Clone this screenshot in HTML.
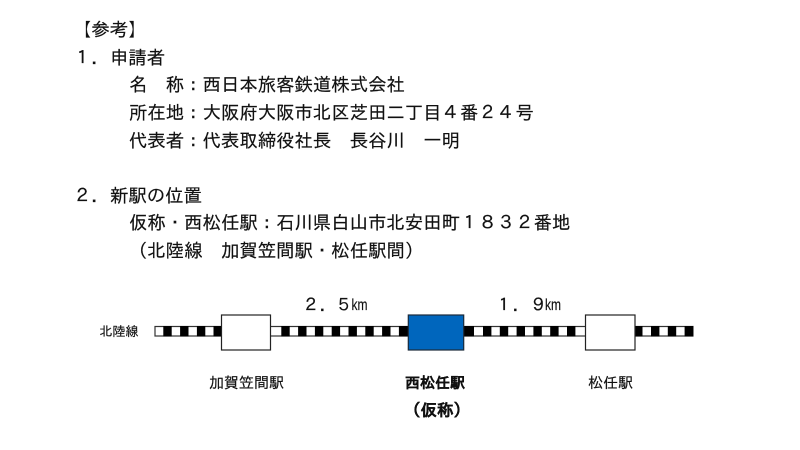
<!DOCTYPE html>
<html lang="ja">
<head>
<meta charset="utf-8">
<style>
html,body{margin:0;padding:0;background:#fff;}
svg{display:block;}
text{font-family:"Liberation Sans","IPAGothic","Noto Sans CJK JP",sans-serif;fill:#111;stroke:#111;stroke-width:0.18px;}
.m{font-size:18.4px;}
.s{font-size:13px;}
</style>
</head>
<body>
<svg width="800" height="450" viewBox="0 0 800 450" xmlns="http://www.w3.org/2000/svg">
<rect width="800" height="450" fill="#fff"/>
<text class="m" x="73" y="36">【参考】</text>
<text class="m" x="73" y="64">１．</text>
<text class="m" x="110" y="64">申請者</text>
<text class="m" x="129" y="91">名　称：西日本旅客鉄道株式会社</text>
<text class="m" x="129" y="119">所在地：大阪府大阪市北区芝田二丁目４番２４号</text>
<text class="m" x="129" y="147">代表者：代表取締役社長　長谷川　一明</text>
<text class="m" x="73" y="202">２．</text>
<text class="m" x="110" y="202">新駅の位置</text>
<text class="m" x="129" y="229">仮称・西松任駅：石川県白山市北安田町１８３２番地</text>
<text class="m" x="129" y="257">（北陸線　加賀笠間駅・松任駅間）</text>

<text class="m" x="302" y="311" style="font-size:17.5px">２．</text>
<text class="m" x="335" y="311" style="font-size:17.5px">５</text>
<text x="351.5" y="310" textLength="16" lengthAdjust="spacingAndGlyphs" style="font-size:16px">km</text>
<text class="m" x="495" y="311" style="font-size:17.5px">１．</text>
<text class="m" x="529.5" y="311" style="font-size:17.5px">９</text>
<text x="545" y="310" textLength="16" lengthAdjust="spacingAndGlyphs" style="font-size:16px">km</text>

<text class="s" x="99.5" y="336">北陸線</text>

<rect x="155" y="326.5" width="538" height="9.5" fill="#fff" stroke="#333" stroke-width="1.2"/>
<g fill="#000">
<rect x="163.3" y="326" width="8.4" height="10.5"/>
<rect x="180.1" y="326" width="8.4" height="10.5"/>
<rect x="196.9" y="326" width="8.4" height="10.5"/>
<rect x="213.5" y="326" width="8" height="10.5"/>
<rect x="281.3" y="326" width="8.4" height="10.5"/>
<rect x="298.1" y="326" width="8.4" height="10.5"/>
<rect x="314.9" y="326" width="8.4" height="10.5"/>
<rect x="331.7" y="326" width="8.4" height="10.5"/>
<rect x="348.5" y="326" width="8.4" height="10.5"/>
<rect x="365.3" y="326" width="8.4" height="10.5"/>
<rect x="382.1" y="326" width="8.4" height="10.5"/>
<rect x="398.9" y="326" width="9.5" height="10.5"/>
<rect x="464" y="326" width="10" height="10.5"/>
<rect x="483" y="326" width="8.4" height="10.5"/>
<rect x="499.8" y="326" width="8.4" height="10.5"/>
<rect x="516.6" y="326" width="8.4" height="10.5"/>
<rect x="533.4" y="326" width="8.4" height="10.5"/>
<rect x="550.2" y="326" width="8.4" height="10.5"/>
<rect x="567" y="326" width="8.4" height="10.5"/>
<rect x="635" y="326" width="7.5" height="10.5"/>
<rect x="651" y="326" width="8.4" height="10.5"/>
<rect x="667.8" y="326" width="8.4" height="10.5"/>
<rect x="684.6" y="326" width="8.4" height="10.5"/>
</g>

<rect x="221.5" y="315" width="49" height="35" fill="#fff" stroke="#222" stroke-width="1.2"/>
<rect x="408.3" y="315" width="55.4" height="35" fill="#0066bd" stroke="#1a2a3a" stroke-width="1.2"/>
<rect x="585.5" y="315" width="49.5" height="35" fill="#fff" stroke="#222" stroke-width="1.2"/>

<text class="s" x="209" y="388" style="font-size:15px">加賀笠間駅</text>
<text class="s" x="405" y="388" style="font-size:15px;font-weight:bold">西松任駅</text>
<text class="s" x="588" y="388" style="font-size:15px">松任駅</text>
<text class="s" x="404" y="416" style="font-size:16.5px;font-weight:bold">（仮称）</text>
</svg>
</body>
</html>
